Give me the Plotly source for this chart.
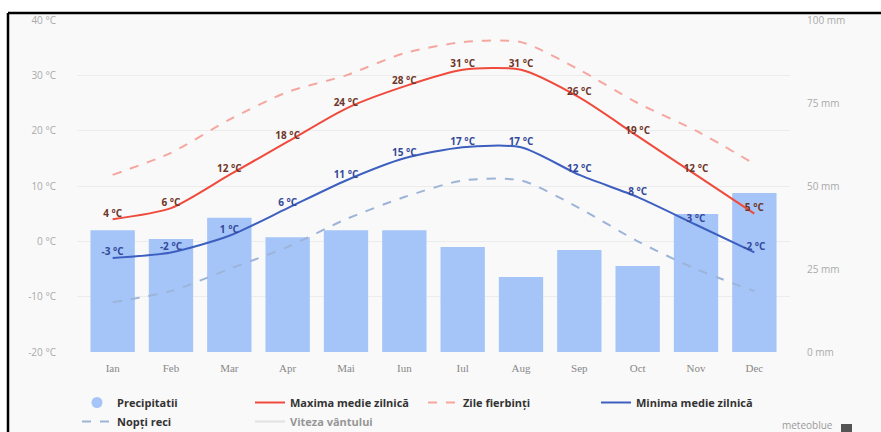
import plotly.graph_objects as go

months = ["Ian", "Feb", "Mar", "Apr", "Mai", "Iun", "Iul", "Aug", "Sep", "Oct", "Nov", "Dec"]
precip_mm = [36.7, 34.0, 40.4, 34.6, 36.7, 36.7, 31.6, 22.6, 30.7, 25.9, 41.6, 47.9]
max_temp = [4, 6, 12, 18, 24, 28, 31, 31, 26, 19, 12, 5]
min_temp = [-3, -2, 1, 6, 11, 15, 17, 17, 12, 8, 3, -2]
hot_days = [12, 16, 22, 27, 30, 34, 36, 36, 31, 25, 20, 14]
cold_nights = [-11, -9, -5, -1, 4, 8, 11, 11, 6, 0, -5, -9]
wind_speed = [None] * 12  # hidden series (legend only), values not shown in the picture
temp_ticks = [-20, -10, 0, 10, 20, 30, 40]
mm_ticks = [0, 25, 50, 75, 100]

W, H = 881, 432
L, R, T, B = 77, 91, 20, 80
pw, ph = W - L - R, H - T - B


def px_x(p):
    return (p - L) / pw


def px_y(p):
    return (H - B - p) / ph


fig = go.Figure()

fig.add_trace(go.Bar(
    x=months, y=precip_mm, name="Precipitatii", yaxis="y",
    marker=dict(color="#a5c5f8", line=dict(width=0)),
    showlegend=False, hoverinfo="y",
))
fig.add_trace(go.Scatter(
    x=[None], y=[None], name="Precipitatii", mode="markers", yaxis="y",
    marker=dict(color="#a5c5f8", size=11, symbol="circle"),
))
fig.add_trace(go.Scatter(
    x=months, y=max_temp, name="Maxima medie zilnică", yaxis="y2",
    mode="lines+text", line=dict(color="#ef4a3c", width=2, shape="spline", smoothing=0.7),
    text=[f"{v} °C" for v in max_temp], textposition="top center",
    textfont=dict(color="#6e3528", size=10, family="Open Sans", weight="bold"),
))
fig.add_trace(go.Scatter(
    x=months, y=hot_days, name="Zile fierbinți", yaxis="y2",
    mode="lines", line=dict(color="#f5a79f", width=2, dash="dash", shape="spline", smoothing=0.7),
))
fig.add_trace(go.Scatter(
    x=months, y=min_temp, name="Minima medie zilnică", yaxis="y2",
    mode="lines+text", line=dict(color="#3d5fc0", width=2, shape="spline", smoothing=0.7),
    text=[f"{v} °C" for v in min_temp], textposition="top center",
    textfont=dict(color="#34489a", size=10, family="Open Sans", weight="bold"),
))
fig.add_trace(go.Scatter(
    x=months, y=cold_nights, name="Nopți reci", yaxis="y2",
    mode="lines", line=dict(color="#9db4d8", width=2, dash="dash", shape="spline", smoothing=0.7),
))
fig.add_trace(go.Scatter(
    x=months, y=wind_speed, name="Viteza vântului", yaxis="y2", mode="lines",
    line=dict(color="#cccccc", width=2), visible="legendonly", showlegend=True,
))

shapes = [
    dict(type="rect", xref="paper", yref="paper", x0=px_x(8), x1=px_x(W), y0=px_y(H), y1=px_y(13),
         fillcolor="#f9f9f9", line=dict(width=0), layer="below"),
    dict(type="line", xref="paper", yref="paper", x0=px_x(8), x1=px_x(W), y0=px_y(13), y1=px_y(13),
         line=dict(color="#000000", width=2.5)),
    dict(type="line", xref="paper", yref="paper", x0=px_x(8), x1=px_x(8), y0=px_y(13), y1=px_y(H),
         line=dict(color="#000000", width=2.5)),
    dict(type="rect", xref="paper", yref="paper", x0=px_x(841), x1=px_x(852), y0=px_y(432), y1=px_y(424),
         fillcolor="#555555", line=dict(width=0)),
]

fig.update_layout(
    width=W, height=H,
    margin=dict(l=L, r=R, t=T, b=B, autoexpand=False),
    paper_bgcolor="#ffffff",
    plot_bgcolor="rgba(0,0,0,0)",
    bargap=0.24,
    font=dict(family="Open Sans", color="#999999", size=10),
    xaxis=dict(
        type="category", showgrid=False, zeroline=False, showline=False,
        tickfont=dict(family="Liberation Serif", size=11, color="#888888"),
        ticks="", ticklabelstandoff=8,
    ),
    yaxis=dict(
        side="right", range=[0, 100], tickvals=mm_ticks,
        ticktext=[f"{v} mm" for v in mm_ticks], showgrid=False, zeroline=False,
        tickfont=dict(size=10, color="#aaaaaa"), ticklabelstandoff=16,
    ),
    yaxis2=dict(
        side="left", overlaying="y", range=[-20, 40], tickvals=temp_ticks,
        ticktext=[f"{v} °C" for v in temp_ticks], showgrid=True, gridcolor="#ececec",
        gridwidth=1, zeroline=False, tickfont=dict(size=10, color="#aaaaaa"),
        ticklabelstandoff=20,
    ),
    legend=dict(
        orientation="h", x=0.0, xanchor="left", y=px_y(388), yanchor="top",
        font=dict(family="Open Sans", size=11, color="#333333", weight="bold"),
        entrywidth=128, entrywidthmode="pixels", itemwidth=30,
        bgcolor="rgba(0,0,0,0)", tracegroupgap=0,
    ),
    shapes=shapes,
    annotations=[
        dict(text="meteoblue", xref="paper", yref="paper", x=px_x(835), y=px_y(434),
             xanchor="right", yanchor="bottom", showarrow=False,
             font=dict(size=10, color="#999999")),
    ],
)

fig.write_html("out.html")
